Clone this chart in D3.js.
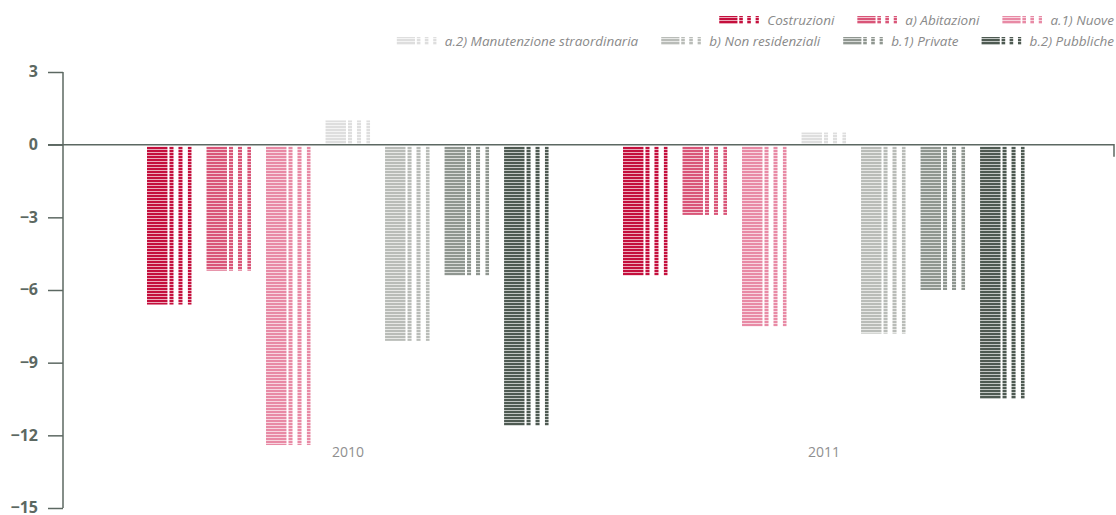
<!DOCTYPE html>
<html>
<head>
<meta charset="utf-8">
<script src="https://cdn.jsdelivr.net/npm/d3@7"></script>
<style>
  body { margin: 0; background: #fff; }
  svg { display: block; }
</style>
</head>
<body>
<svg></svg>
<script>
// data
var years = ["2010", "2011"];
var series = ["Costruzioni", "a) Abitazioni", "a.1) Nuove", "a.2) Manutenzione straordinaria",
              "b) Non residenziali", "b.1) Private", "b.2) Pubbliche"];
var values2010 = [-6.6, -5.2, -12.4, 1.0, -8.1, -5.4, -11.6];
var values2011 = [-5.4, -2.9, -7.5, 0.5, -7.8, -6.0, -10.5];
var yTicks = [3, 0, -3, -6, -9, -12, -15];
var colors = ["#c40f3d", "#d95578", "#e88aa5", "#dedede", "#b9bcb8", "#8f9690", "#4e5a52"];

window.onload = function(){
    var W = 1116, H = 515;
    var svg = d3.select("svg").attr("width", W).attr("height", H);
    var axisColor = "#5c6862";

    // stripe patterns
    var defs = svg.append("defs");
    series.forEach(function(s, i){
        var p = defs.append("pattern")
            .attr("id", "pat" + i)
            .attr("patternUnits", "userSpaceOnUse")
            .attr("width", 4).attr("height", 3);
        p.append("rect").attr("width", 4).attr("height", 3)
            .attr("fill", colors[i]).attr("opacity", 0.35);
        p.append("rect").attr("width", 4).attr("height", 2)
            .attr("fill", colors[i]);
    });

    var y = d3.scaleLinear().domain([-15, 3]).range([508, 72]);
    var x0 = d3.scaleBand().domain(years).range([110, 1062]);
    var x1 = d3.scaleBand().domain(series).range([37, 439]).paddingInner(0.245);

    // y axis
    var yAxis = d3.axisLeft(y).tickValues(yTicks).tickSize(15).tickPadding(10);
    var gy = svg.append("g").attr("transform", "translate(63,0)").call(yAxis);
    gy.select(".domain").attr("stroke", axisColor).attr("stroke-width", 1.5)
        .attr("d", "M0," + y(3) + "V" + y(-15));
    gy.selectAll(".tick line").attr("stroke", axisColor).attr("stroke-width", 1.5);
    gy.selectAll(".tick text")
        .attr("fill", axisColor)
        .attr("font-family", "'Open Sans', sans-serif")
        .attr("font-weight", "bold")
        .attr("font-size", 16)
        .attr("dy", "0.3em");

    // bars
    var table = [];
    years.forEach(function(yr, yi){
        var vals = yi === 0 ? values2010 : values2011;
        series.forEach(function(s, si){
            table.push({year: yr, series: s, idx: si, value: vals[si]});
        });
    });

    // each bar = wide block + three thin strips (fractions of the bar width)
    var parts = [[0, 0.455], [0.5, 0.09], [0.7, 0.09], [0.91, 0.08]];

    var bars = svg.append("g").selectAll("g.bar")
        .data(table).enter()
        .append("g").attr("class", "bar")
        .attr("transform", function(d){ return "translate(" + (x0(d.year) + x1(d.series)) + ",0)"; });

    bars.each(function(d){
        var g = d3.select(this);
        var bw = x1.bandwidth();
        var top = y(Math.max(0, d.value)), bot = y(Math.min(0, d.value));
        if (d.value < 0) top += 2;
        parts.forEach(function(p){
            g.append("rect")
                .attr("x", p[0] * bw)
                .attr("width", p[1] * bw)
                .attr("y", top)
                .attr("height", bot - top)
                .attr("fill", "url(#pat" + d.idx + ")");
        });
    });

    // zero line
    svg.append("path")
        .attr("d", "M48," + y(0) + "H1114V" + (y(0) + 12))
        .attr("fill", "none")
        .attr("stroke", axisColor)
        .attr("stroke-width", 1.5);

    // year labels
    svg.append("g").selectAll("text")
        .data(years).enter()
        .append("text")
        .attr("x", function(d){ return x0(d) + x0.bandwidth() / 2; })
        .attr("y", 457)
        .attr("text-anchor", "middle")
        .attr("fill", "#8f8f8f")
        .attr("font-family", "'Open Sans', sans-serif")
        .attr("font-size", 14)
        .text(function(d){ return d; });

    // legend, two right-aligned rows
    var rows = [[0, 1, 2], [3, 4, 5, 6]];
    var rowY = [20, 41];
    rows.forEach(function(row, ri){
        var xr = 1114;
        for (var k = row.length - 1; k >= 0; k--) {
            var i = row[k];
            var t = svg.append("text")
                .attr("y", rowY[ri] + 4.5)
                .attr("fill", "#8a8a8a")
                .attr("font-family", "'Open Sans', sans-serif")
                .attr("font-style", "italic")
                .attr("font-size", 13.5)
                .text(series[i]);
            var tw = t.node().getComputedTextLength();
            t.attr("x", xr - tw);
            var sx = xr - tw - 8 - 40;
            parts.forEach(function(p){
                svg.append("rect")
                    .attr("x", sx + p[0] * 40).attr("width", p[1] * 40)
                    .attr("y", rowY[ri] - 4).attr("height", 8)
                    .attr("fill", "url(#pat" + i + ")");
            });
            xr = sx - 23;
        }
    });
};
</script>
</body>
</html>
